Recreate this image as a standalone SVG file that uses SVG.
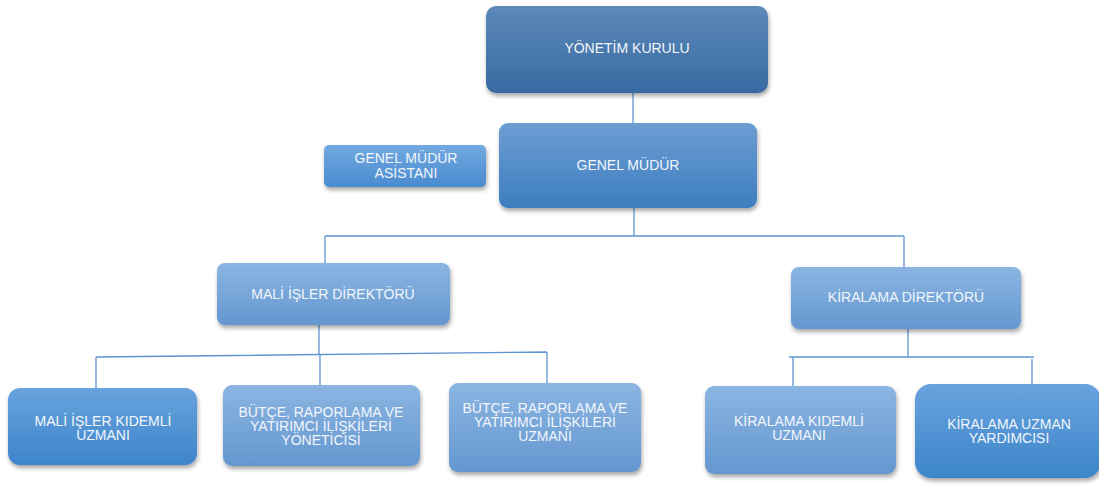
<svg xmlns="http://www.w3.org/2000/svg" width="1099" height="486" viewBox="0 0 1099 486">
<defs>
<linearGradient id="gDark" x1="0" y1="0" x2="0" y2="1"><stop offset="0" stop-color="#5d89b9"/><stop offset="1" stop-color="#386aa2"/></linearGradient>
<linearGradient id="gMid" x1="0" y1="0" x2="0" y2="1"><stop offset="0" stop-color="#6c9dd2"/><stop offset="1" stop-color="#3e7ec0"/></linearGradient>
<linearGradient id="gAsst" x1="0" y1="0" x2="0" y2="1"><stop offset="0" stop-color="#72a9e0"/><stop offset="1" stop-color="#4a8bd0"/></linearGradient>
<linearGradient id="gLight" x1="0" y1="0" x2="0" y2="1"><stop offset="0" stop-color="#8bb5e2"/><stop offset="1" stop-color="#6497cf"/></linearGradient>
<linearGradient id="gBright" x1="0" y1="0" x2="0" y2="1"><stop offset="0" stop-color="#68a3de"/><stop offset="1" stop-color="#3e85ca"/></linearGradient>
<filter id="sh" x="-10%" y="-10%" width="125%" height="135%"><feDropShadow dx="1" dy="3" stdDeviation="2" flood-color="#000" flood-opacity="0.35"/></filter>
</defs>
<style>
.box{filter:url(#sh)}
.t{font-family:"Liberation Sans",Arial,sans-serif;fill:#f2f6fb;text-anchor:middle;font-size:14px}
.c{stroke:#5e95d0;stroke-width:1.3;fill:none}
</style>
<rect width="1099" height="486" fill="#fff"/>
<g id="connectors">
<path class="c" d="M633 93V123"/>
<path class="c" d="M634 208V236M325 236H904M325 236V264M904 236V268"/>
<path class="c" d="M319 325V355M96 357L547 352M96 357V388M320 355V385M547 352V383"/>
<path class="c" d="M908 329V357M789 357H1034M793 357V386M1032 359V388"/>
</g>
<g id="yonetim-kurulu"><rect class="box" x="486" y="6" width="282" height="87" rx="10" fill="url(#gDark)"/><text class="t" x="627" y="53" font-size="15.8">YÖNETİM KURULU</text></g>
<g id="genel-mudur"><rect class="box" x="499" y="123" width="258" height="85" rx="9" fill="url(#gMid)"/><text class="t" x="628" y="170" font-size="16">GENEL MÜDÜR</text></g>
<g id="genel-mudur-asistani"><rect class="box" x="324" y="145" width="162" height="42" rx="5" fill="url(#gAsst)"/><text class="t" x="406" y="163" font-size="16.3">GENEL MÜDÜR</text><text class="t" x="406" y="178" font-size="16.3">ASİSTANI</text></g>
<g id="mali-isler-direktoru"><rect class="box" x="217" y="263" width="233" height="62" rx="8" fill="url(#gLight)"/><text class="t" x="333" y="299" font-size="13.4">MALİ İŞLER DİREKTÖRÜ</text></g>
<g id="kiralama-direktoru"><rect class="box" x="791" y="267" width="230" height="62" rx="8" fill="url(#gLight)"/><text class="t" x="906" y="302" font-size="13.5">KİRALAMA DİREKTÖRÜ</text></g>
<g id="mali-isler-kidemli-uzmani"><rect class="box" x="8" y="388" width="189" height="77" rx="12" fill="url(#gBright)"/><text class="t" x="103" y="426">MALİ İŞLER KIDEMLİ</text><text class="t" x="103" y="440">UZMANI</text></g>
<g id="butce-yoneticisi"><rect class="box" x="223" y="385" width="197" height="81" rx="9" fill="url(#gLight)"/><text class="t" x="321" y="417">BÜTÇE, RAPORLAMA VE</text><text class="t" x="321" y="431">YATIRIMCI İLİŞKİLERİ</text><text class="t" x="321" y="445">YÖNETİCİSİ</text></g>
<g id="butce-uzmani"><rect class="box" x="449" y="383" width="192" height="89" rx="9" fill="url(#gLight)"/><text class="t" x="545" y="413">BÜTÇE, RAPORLAMA VE</text><text class="t" x="545" y="427">YATIRIMCI İLİŞKİLERİ</text><text class="t" x="545" y="441">UZMANI</text></g>
<g id="kiralama-kidemli-uzmani"><rect class="box" x="705" y="386" width="191" height="88" rx="9" fill="url(#gLight)"/><text class="t" x="799" y="426">KİRALAMA KIDEMLİ</text><text class="t" x="799" y="440">UZMANI</text></g>
<g id="kiralama-uzman-yardimcisi"><rect class="box" x="915" y="384" width="186" height="94" rx="16" fill="url(#gBright)"/><text class="t" x="1009" y="429">KİRALAMA UZMAN</text><text class="t" x="1009" y="443">YARDIMCISI</text></g>
</svg>
